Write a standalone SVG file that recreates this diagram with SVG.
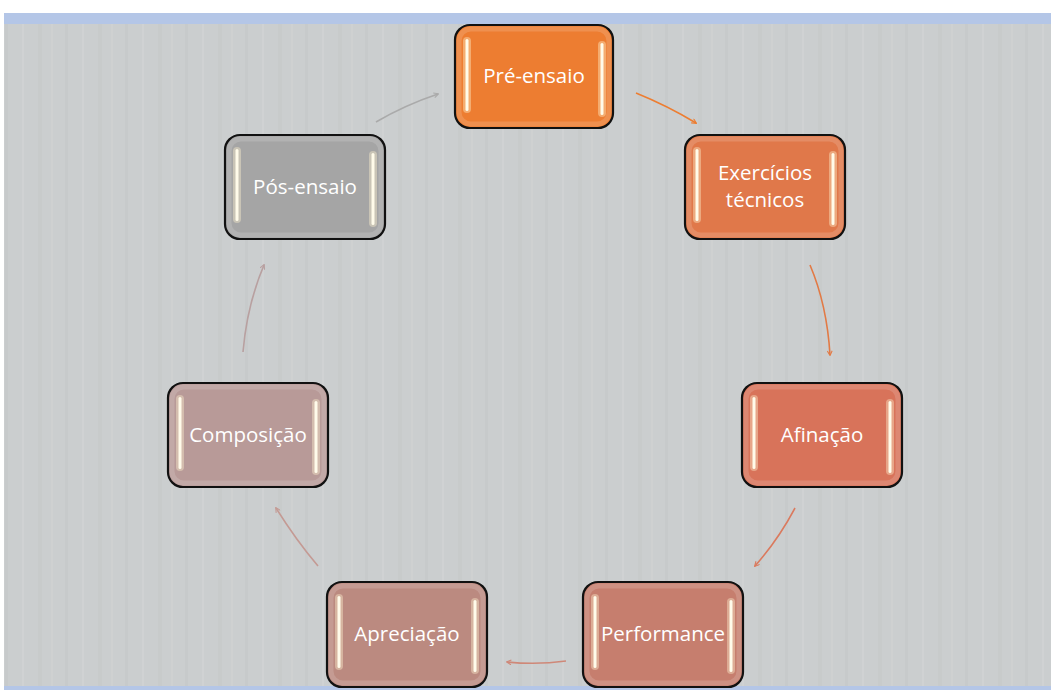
<svg xmlns="http://www.w3.org/2000/svg" width="1051" height="690" viewBox="0 0 1051 690">
<defs>
<style>
.box{stroke:#111;stroke-width:2.2}
.rim{fill:none;stroke:#fff;stroke-opacity:0.15;stroke-width:5}
.gh{fill:#fff2d0;fill-opacity:0.4}
.gl{fill:#fffbea}
.lbl{font-family:"Open Sans","Liberation Sans",Arial,sans-serif;font-size:20.5px;fill:#fff;text-anchor:middle}
.con{fill:none;stroke-width:1.6}
</style>
<pattern id="tex" width="60" height="40" patternUnits="userSpaceOnUse">
<rect width="60" height="40" fill="#cbcecf"/>
<rect x="5" width="3" height="40" fill="#c7cacb"/>
<rect x="22" width="2" height="40" fill="#d0d2d3"/>
<rect x="38" width="4" height="40" fill="#c8cbcb"/>
<rect x="51" width="2" height="40" fill="#cfd1d1"/>
</pattern>
<marker id="ah" viewBox="0 0 10 10" refX="8" refY="5" markerWidth="6" markerHeight="6" orient="auto-start-reverse" markerUnits="userSpaceOnUse">
<path d="M1,1 L9,5 L1,9" fill="none" stroke="context-stroke" stroke-width="1.8"/>
</marker>
</defs>
<rect width="1051" height="690" fill="#fff"/>
<rect x="4" y="13" width="1047" height="677" fill="#b4c6e7"/>
<rect x="4" y="24" width="1047" height="662" fill="url(#tex)"/>

<g id="connectors">
<path class="con" stroke="#ed7d31" d="M636,93 Q668,106 696,123" marker-end="url(#ah)"/>
<path class="con" stroke="#e27a45" d="M810,265 Q827,305 830,355" marker-end="url(#ah)"/>
<path class="con" stroke="#da7a5e" d="M795,508 Q778,540 755,566" marker-end="url(#ah)"/>
<path class="con" stroke="#cf8878" d="M566,661 Q537,665 507,662" marker-end="url(#ah)"/>
<path class="con" stroke="#c49a94" d="M318,566 Q296,540 276,508" marker-end="url(#ah)"/>
<path class="con" stroke="#b8a0a0" d="M243,352 Q247,305 264,265" marker-end="url(#ah)"/>
<path class="con" stroke="#aaaaaa" d="M376,122 Q405,105 438,94" marker-end="url(#ah)"/>
</g>

<g id="n1">
<rect class="box" x="455" y="25" width="158" height="103" rx="15" fill="#ed7d31"/>
<rect class="rim" x="459" y="29" width="150" height="95" rx="12"/>
<rect class="gh" x="463" y="37" width="8" height="76" rx="4"/>
<rect class="gl" x="465.5" y="39" width="3" height="72" rx="1.5"/>
<rect class="gh" x="598" y="41" width="8" height="76" rx="4"/>
<rect class="gl" x="600.5" y="43" width="3" height="72" rx="1.5"/>
<text class="lbl" x="534" y="83">Pré-ensaio</text>
</g>
<g id="n2">
<rect class="box" x="685" y="135" width="160" height="104" rx="15" fill="#e0784a"/>
<rect class="rim" x="689" y="139" width="152" height="96" rx="12"/>
<rect class="gh" x="693" y="147" width="8" height="76" rx="4"/>
<rect class="gl" x="695.5" y="149" width="3" height="72" rx="1.5"/>
<rect class="gh" x="829" y="151" width="8" height="76" rx="4"/>
<rect class="gl" x="831.5" y="153" width="3" height="72" rx="1.5"/>
<text class="lbl" x="765" y="180">Exercícios</text>
<text class="lbl" x="765" y="207">técnicos</text>
</g>
<g id="n3">
<rect class="box" x="742" y="383" width="160" height="104" rx="15" fill="#d8735a"/>
<rect class="rim" x="746" y="387" width="152" height="96" rx="12"/>
<rect class="gh" x="750" y="395" width="8" height="76" rx="4"/>
<rect class="gl" x="752.5" y="397" width="3" height="72" rx="1.5"/>
<rect class="gh" x="886" y="399" width="8" height="76" rx="4"/>
<rect class="gl" x="888.5" y="401" width="3" height="72" rx="1.5"/>
<text class="lbl" x="822" y="442">Afinação</text>
</g>
<g id="n4">
<rect class="box" x="583" y="582" width="160" height="105" rx="15" fill="#c67e6e"/>
<rect class="rim" x="587" y="586" width="152" height="97" rx="12"/>
<rect class="gh" x="591" y="594" width="8" height="76" rx="4"/>
<rect class="gl" x="593.5" y="596" width="3" height="72" rx="1.5"/>
<rect class="gh" x="727" y="598" width="8" height="76" rx="4"/>
<rect class="gl" x="729.5" y="600" width="3" height="72" rx="1.5"/>
<text class="lbl" x="663" y="641">Performance</text>
</g>
<g id="n5">
<rect class="box" x="327" y="582" width="160" height="105" rx="15" fill="#bb8a80"/>
<rect class="rim" x="331" y="586" width="152" height="97" rx="12"/>
<rect class="gh" x="335" y="594" width="8" height="76" rx="4"/>
<rect class="gl" x="337.5" y="596" width="3" height="72" rx="1.5"/>
<rect class="gh" x="471" y="598" width="8" height="76" rx="4"/>
<rect class="gl" x="473.5" y="600" width="3" height="72" rx="1.5"/>
<text class="lbl" x="407" y="641">Apreciação</text>
</g>
<g id="n6">
<rect class="box" x="168" y="383" width="160" height="104" rx="15" fill="#b89a98"/>
<rect class="rim" x="172" y="387" width="152" height="96" rx="12"/>
<rect class="gh" x="176" y="395" width="8" height="76" rx="4"/>
<rect class="gl" x="178.5" y="397" width="3" height="72" rx="1.5"/>
<rect class="gh" x="312" y="399" width="8" height="76" rx="4"/>
<rect class="gl" x="314.5" y="401" width="3" height="72" rx="1.5"/>
<text class="lbl" x="248" y="442">Composição</text>
</g>
<g id="n7">
<rect class="box" x="225" y="135" width="160" height="104" rx="15" fill="#a5a5a5"/>
<rect class="rim" x="229" y="139" width="152" height="96" rx="12"/>
<rect class="gh" x="233" y="147" width="8" height="76" rx="4"/>
<rect class="gl" x="235.5" y="149" width="3" height="72" rx="1.5"/>
<rect class="gh" x="369" y="151" width="8" height="76" rx="4"/>
<rect class="gl" x="371.5" y="153" width="3" height="72" rx="1.5"/>
<text class="lbl" x="305" y="194">Pós-ensaio</text>
</g>
</svg>
